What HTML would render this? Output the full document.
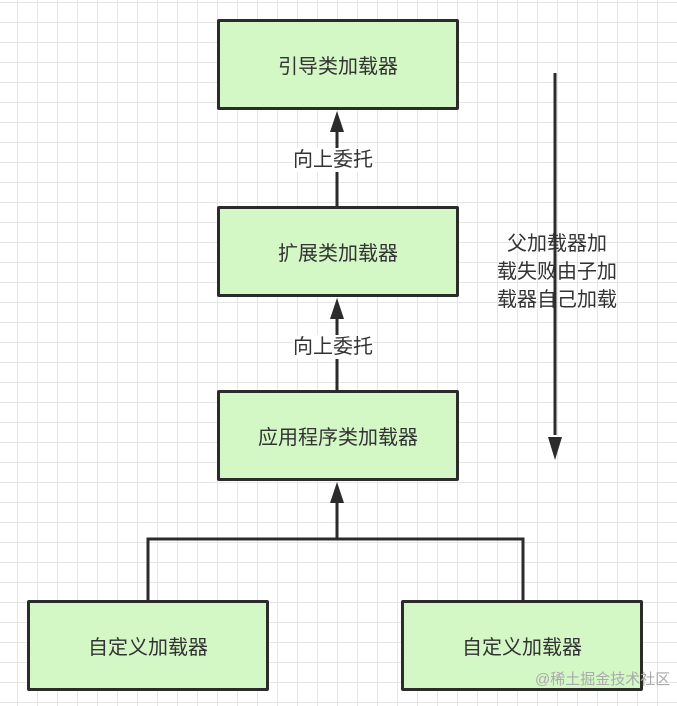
<!DOCTYPE html>
<html><head><meta charset="utf-8"><style>
body{margin:0;width:677px;height:706px;overflow:hidden;background:#fff;
background-image:linear-gradient(#e6e6e6 1px,transparent 1px),linear-gradient(90deg,#e6e6e6 1px,transparent 1px);
background-size:20px 20px;background-position:-3px 2px;font-family:"Liberation Sans","Noto Sans CJK SC",sans-serif;}
.b{position:absolute;width:236px;height:85px;background:#d4f7c6;border:3px solid #2b2b2b;display:flex;align-items:center;justify-content:center;font-size:20px;color:#333;border-radius:2px}
.l{position:absolute;font-size:20px;color:#333;background:#fff;line-height:24px}
</style></head><body>
<svg width="677" height="706" style="position:absolute;left:0;top:0">
<g stroke="#2b2b2b" stroke-width="3" fill="none">
<line x1="337" y1="130" x2="337" y2="206"/>
<line x1="337" y1="317" x2="337" y2="390"/>
<line x1="337" y1="500" x2="337" y2="539"/>
<polyline points="148,600 148,539 523,539 523,600"/>
<line x1="555" y1="73" x2="555" y2="435"/>
</g>
<g fill="#2b2b2b">
<polygon points="337,111 330,132 344,132"/>
<polygon points="337,298 330,319 344,319"/>
<polygon points="337,482 330,503 344,503"/>
<polygon points="555,460 548,437 562,437"/>
</g>
</svg>
<div class="b" style="left:217px;top:19px">引导类加载器</div>
<div class="b" style="left:217px;top:206px">扩展类加载器</div>
<div class="b" style="left:217px;top:390px">应用程序类加载器</div>
<div class="b" style="left:27px;top:600px">自定义加载器</div>
<div class="b" style="left:401px;top:600px">自定义加载器</div>
<div class="l" style="left:293px;top:148px">向上委托</div>
<div class="l" style="left:293px;top:335px">向上委托</div>
<div class="l" style="left:487px;top:230px;text-align:center;width:140px;line-height:28px;background:transparent">父加载器加<br>载失败由子加<br>载器自己加载</div>
<div style="position:absolute;left:535px;top:668px;font-size:15px;color:#aaa">@稀土掘金技术社区</div>
</body></html>
